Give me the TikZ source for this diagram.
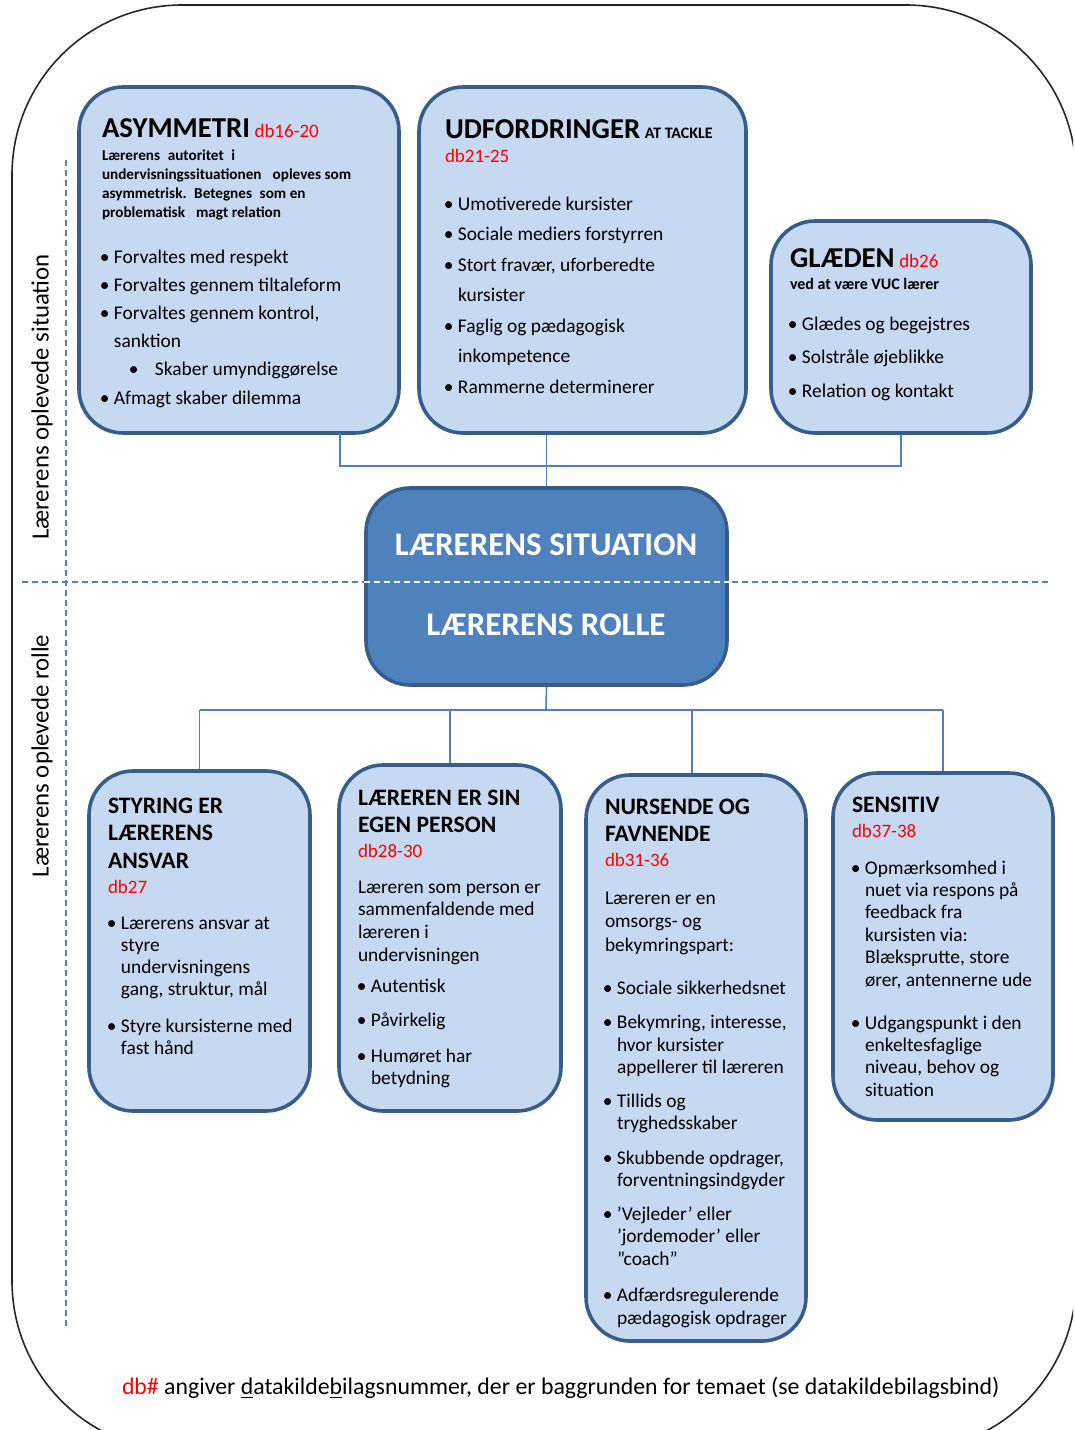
\documentclass[tikz,border=0pt]{standalone}
\usepackage{fontspec}
\setmainfont{Carlito}
\definecolor{boxfill}{HTML}{C6D9F1}
\definecolor{boxline}{HTML}{385D8A}
\definecolor{accent}{HTML}{4F81BD}
\definecolor{dbred}{HTML}{FF0000}
% bullet and hanging indent used in the lists
\newcommand\bu{\makebox[5.5pt][l]{\hspace{-1.6pt}•}}
\newcommand\ind{\hspace*{5.5pt}}
% text block: size, line pitch, lines (first baseline is the reference point)
\newcommand\blk[3]{\parbox[t]{220pt}{\raggedright\fontsize{#1}{#2}\selectfont\lineskiplimit=-100pt\lineskip=0pt #3}}
\newcommand\ttl[1]{{\fontsize{14.4}{16}\selectfont\bfseries #1}}
\newcommand\dbref[1]{{\fontsize{9.5}{11}\selectfont\color{dbred}#1}}
\tikzset{
  card/.style={draw=boxline, line width=1.8pt, fill=boxfill, rounded corners=22pt, inner sep=0pt},
  hub/.style={draw=boxline, line width=1.8pt, fill=accent, rounded corners=22pt, inner sep=0pt},
  conn/.style={draw=accent, line width=0.8pt},
  guide/.style={draw=accent, line width=0.7pt, dash pattern=on 3pt off 2pt},
  txt/.style={anchor=base west, inner sep=0pt, outer sep=0pt, text=black},
  sidelabel/.style={rotate=90, inner sep=0pt, font=\fontsize{12.4}{14}\selectfont},
  hubtext/.style={inner sep=0pt, text=white, font=\fontsize{16.5}{18}\selectfont\bfseries},
}
\begin{document}
\begin{tikzpicture}[x=0.5pt,y=-0.5pt]
\useasboundingbox (0,0) rectangle (1073,1430);
\clip (0,0) rectangle (1073,1430);

% outer frame
\draw[black!85, line width=0.8pt, rounded corners=85pt] (12,5) rectangle (1076,1451);

% guide lines splitting situation / role
\draw[guide] (66,160) -- (66,1330);
\draw[guide] (22,582) -- (1050,582);

% side labels
\node[sidelabel] (lblsit) at (42,397) {Lærerens oplevede situation};
\node[sidelabel] (lblrol) at (42,756) {Lærerens oplevede rolle};

% boxes
\node[card, minimum width=160pt, minimum height=173pt] (asym) at (239,260) {};
\node[card, minimum width=163.5pt, minimum height=173pt] (udf) at (582.5,260) {};
\node[card, minimum width=130pt, minimum height=106pt] (glad) at (901,327) {};
\node[hub, minimum width=180.5pt, minimum height=98.5pt] (hubbox) at (546.5,586.5) {};
\node[card, minimum width=110.5pt, minimum height=170pt] (styr) at (199.5,941) {};
\node[card, minimum width=111pt, minimum height=173pt] (egen) at (450,938) {};
\node[card, minimum width=110pt, minimum height=283pt] (nurs) at (696,1058) {};
\node[card, minimum width=110pt, minimum height=173.5pt] (sens) at (943,946.5) {};

% connectors
\coordinate (jt) at (546,466);
\coordinate (asymdrop) at (340,433);
\coordinate (jb) at (546,710);
\draw[conn] (asymdrop) |- (jt) -| (glad.south);
\draw[conn] (udf.south -| hubbox.north) -- (hubbox.north);
\draw[conn] (hubbox.south) -- (jb);
\draw[conn] (styr.north |- jb) -- (sens.north |- jb);
\draw[conn] (styr.north |- jb) -- (styr.north);
\draw[conn] (egen.north |- jb) -- (egen.north);
\draw[conn] ([xshift=-2pt]nurs.north |- jb) -- ([xshift=-2pt]nurs.north);
\draw[conn] (sens.north |- jb) -- (sens.north);

% divider inside the hub
\draw[white, line width=0.7pt, dash pattern=on 3pt off 2pt] (hubbox.west |- 0,582) -- (hubbox.east |- 0,582);
\node[hubtext] (hubtop) at (546,545) {LÆRERENS SITUATION};
\node[hubtext] (hubbot) at (546,625) {LÆRERENS ROLLE};

% ASYMMETRI
\node[txt] (asymt) at (102,137) {\ttl{ASYMMETRI} \dbref{db16-20}};
\node[txt] (asymd) at (102,160) {\blk{7.6}{9.5}{\bfseries Lærerens\enspace autoritet\enspace i\\
undervisningssituationen\enspace\ opleves som\\
asymmetrisk.\enspace Betegnes\enspace som en\\
problematisk\enspace\ magt relation}};
\node[txt] (asyml) at (103,263) {\blk{9.7}{14.1}{\bu Forvaltes med respekt\\
\bu Forvaltes gennem tiltaleform\\
\bu Forvaltes gennem kontrol,\\
\ind sanktion\\
\hspace*{14.5pt}\makebox[11.5pt][l]{\hspace{-1.6pt}•}Skaber umyndiggørelse\\
\bu Afmagt skaber dilemma}};

% UDFORDRINGER
\node[txt] (udft) at (445,138) {\ttl{UDFORDRINGER} {\fontsize{8}{9}\selectfont\bfseries AT TACKLE}};
\node[txt] (udfd) at (445,162) {\dbref{db21-25}};
\node[txt] (udfl) at (447,210) {\blk{9.7}{15.25}{\bu Umotiverede kursister\\
\bu Sociale mediers forstyrren\\
\bu Stort fravær, uforberedte\\
\ind kursister\\
\bu Faglig og pædagogisk\\
\ind inkompetence\\
\bu Rammerne determinerer}};

% GLÆDEN
\node[txt] (gladt) at (790,267) {\ttl{GLÆDEN} \dbref{db26}};
\node[txt] (glads) at (790,289) {\fontsize{8}{9}\selectfont\bfseries ved at være VUC lærer};
\node[txt] (gladl) at (791,330) {\blk{9.7}{16.75}{\bu Glædes og begejstres\\
\bu Solstråle øjeblikke\\
\bu Relation og kontakt}};

% STYRING ER LÆRERENS ANSVAR
\node[txt] (styrt) at (108,813) {\blk{11.8}{13.75}{\bfseries STYRING ER\\ LÆRERENS\\ ANSVAR}};
\node[txt] (styrd) at (108,893) {\dbref{db27}};
\node[txt] (styrl) at (110,929) {\blk{9.7}{11.15}{\bu Lærerens ansvar at\\
\ind styre\\
\ind undervisningens\\
\ind gang, struktur, mål\\[6.9pt]
\bu Styre kursisterne med\\
\ind fast hånd}};

% LÆREREN ER SIN EGEN PERSON
\node[txt] (egent) at (358,805) {\blk{11.8}{13.5}{\bfseries LÆREREN ER SIN\\ EGEN PERSON}};
\node[txt] (egend) at (358,857) {\dbref{db28-30}};
\node[txt] (egenp) at (358,893) {\blk{9.7}{11.35}{Læreren som person er\\
sammenfaldende med\\
læreren i\\
undervisningen}};
\node[txt] (egenl) at (360,992) {\blk{9.7}{11.35}{\bu Autentisk\\[5.7pt]
\bu Påvirkelig\\[6.6pt]
\bu Humøret har\\
\ind betydning}};

% NURSENDE OG FAVNENDE
\node[txt] (nurst) at (605,814) {\blk{11.8}{13.5}{\bfseries NURSENDE OG\\ FAVNENDE}};
\node[txt] (nursd) at (605,866) {\dbref{db31-36}};
\node[txt] (nursp) at (605,904) {\blk{9.7}{11.75}{Læreren er en\\
omsorgs- og\\
bekymringspart:}};
\node[txt] (nursl) at (606,994) {\blk{9.7}{11.25}{\bu Sociale sikkerhedsnet\\[6pt]
\bu Bekymring, interesse,\\
\ind hvor kursister\\
\ind appellerer til læreren\\[5.5pt]
\bu Tillids og\\
\ind tryghedsskaber\\[6pt]
\bu Skubbende opdrager,\\
\ind forventningsindgyder\\[5.5pt]
\bu ’Vejleder’ eller\\
\ind ’jordemoder’ eller\\
\ind ”coach”\\[7pt]
\bu Adfærdsregulerende\\
\ind pædagogisk opdrager}};

% SENSITIV
\node[txt] (senst) at (852,812.5) {\fontsize{11.8}{13}\selectfont\bfseries SENSITIV};
\node[txt] (sensd) at (852,837) {\dbref{db37-38}};
\node[txt] (sensl) at (854,874) {\blk{9.7}{11.2}{\bu Opmærksomhed i\\
\ind nuet via respons på\\
\ind feedback fra\\
\ind kursisten via:\\
\ind Blæksprutte, store\\
\ind ører, antennerne ude\\[10.3pt]
\bu Udgangspunkt i den\\
\ind enkeltesfaglige\\
\ind niveau, behov og\\
\ind situation}};

% footnote
\node[txt] (foot) at (122,1394) {\fontsize{11.9}{13}\selectfont{\color{dbred}db\#} angiver \underline{d}atakilde\underline{b}ilagsnummer, der er baggrunden for temaet (se datakildebilagsbind)};
\end{tikzpicture}
\end{document}
